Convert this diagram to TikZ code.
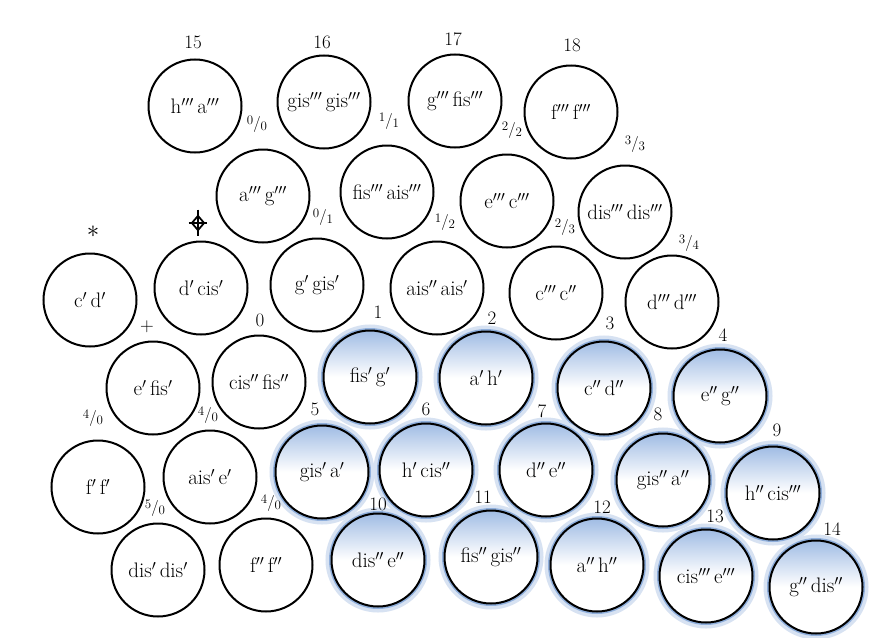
\documentclass[tikz,border=0pt]{standalone}
\usetikzlibrary{shapes.geometric}
\pgfdeclarelayer{background}
\pgfsetlayers{background,main}
\definecolor{bluering}{RGB}{95,140,205}
\definecolor{bluetop}{RGB}{160,188,228}
\newcommand\fra[2]{\raisebox{0.45ex}{\fontsize{13}{13}\selectfont#1}{\fontsize{16}{16}\selectfont/}\raisebox{-0.25ex}{\fontsize{13}{13}\selectfont#2}}
\begin{document}
\begin{tikzpicture}[x=1pt,y=-1pt,
  bub/.style={inner sep=1pt, font=\fontsize{21}{23}\selectfont},
  ring/.style={draw=black, line width=2pt},
  bring/.style={top color=bluetop, bottom color=white, middle color=white,
               preaction={draw=bluering!25, line width=12pt},
               preaction={draw=bluering!70, line width=5pt}},
  num/.style={font=\fontsize{19}{20}\selectfont, inner sep=0pt},
]
\useasboundingbox (0,0) rectangle (875,637);

% row A
\node[bub] (n15) at (195,106) {h$'''$\,a$'''$};
\node[bub] (n16) at (324,102) {gis$'''$\,gis$'''$};
\node[bub] (n17) at (455,101) {g$'''$\,fis$'''$};
\node[bub] (n18) at (571,112) {f$'''$\,f$'''$};
% row B
\node[bub] (ag) at (263,196) {a$'''$\,g$'''$};
\node[bub] (fisais) at (387,192) {fis$'''$\,ais$'''$};
\node[bub] (ec) at (507,201) {e$'''$\,c$'''$};
\node[bub] (disdis3) at (625,212) {dis$'''$\,dis$'''$};
% row C
\node[bub] (cd) at (90,300) {c$'$\,d$'$};
\node[bub] (dcis) at (201,288) {d$'$\,cis$'$};
\node[bub] (ggis) at (317,285) {g$'$\,gis$'$};
\node[bub] (aisais) at (437,288) {ais$''$\,ais$'$};
\node[bub] (cc) at (556,293) {c$'''$\,c$''$};
\node[bub] (dd) at (672,302) {d$'''$\,d$'''$};
% row D
\node[bub] (efis) at (153,388) {e$'$\,fis$'$};
\node[bub] (cisfis) at (259,382) {cis$''$\,fis$''$};
\node[bub] (b1) at (370,377) {fis$'$\,g$'$};
\node[bub] (b2) at (486,378) {a$'$\,h$'$};
\node[bub] (b3) at (604,388) {c$''$\,d$''$};
\node[bub] (b4) at (720,396) {e$''$\,g$''$};
% row E
\node[bub] (ff1) at (98,487) {f$'$\,f$'$};
\node[bub] (aise) at (210,477) {ais$'$\,e$'$};
\node[bub] (b5) at (322,472) {gis$'$\,a$'$};
\node[bub] (b6) at (426,470) {h$'$\,cis$''$};
\node[bub] (b7) at (546,470) {d$''$\,e$''$};
\node[bub] (b8) at (663,480) {gis$''$\,a$''$};
\node[bub] (b9) at (773,493) {h$''$\,cis$'''$};
% row F
\node[bub] (disdis1) at (158,570) {dis$'$\,dis$'$};
\node[bub] (ff2) at (266,565) {f$''$\,f$''$};
\node[bub] (b10) at (378,560) {dis$''$\,e$''$};
\node[bub] (b11) at (491,557) {fis$''$\,gis$''$};
\node[bub] (b12) at (597,565) {a$''$\,h$''$};
\node[bub] (b13) at (706,576) {cis$'''$\,e$'''$};
\node[bub] (b14) at (816,587) {g$''$\,dis$''$};

\begin{pgfonlayer}{background}
  \fill[white] (0,0) rectangle (875,637);
  \foreach \n in {b1,b2,b3,b4,b5,b6,b7,b8,b9,b10,b11,b12,b13,b14}
    \shade[bring] (\n.center) circle[radius=46.5];
  \foreach \n in {n15,n16,n17,n18,ag,fisais,ec,disdis3,cd,dcis,ggis,aisais,cc,dd,
                  efis,cisfis,b1,b2,b3,b4,ff1,aise,b5,b6,b7,b8,b9,
                  disdis1,ff2,b10,b11,b12,b13,b14}
    \draw[ring] (\n.center) circle[radius=46.5];
\end{pgfonlayer}

% number labels
\node[num] (l15) at (193,42) {15};
\node[num] (l16) at (322,42) {16};
\node[num] (l17) at (453,39) {17};
\node[num] (l18) at (572,45) {18};
\node[num] (f00) at (257,124) {\fra00};
\node[num] (f11) at (389,121) {\fra11};
\node[num] (f22) at (512,130) {\fra22};
\node[num] (f33) at (635,144) {\fra33};
\node[num] (f01) at (323,217) {\fra01};
\node[num] (f12) at (445,222) {\fra12};
\node[num] (f23) at (565,227) {\fra23};
\node[num] (f34) at (689,243) {\fra34};
\node[num] (lp) at (147,327) {+};
\node[num] (l0) at (260,320) {0};
\node[num] (l1) at (378,312) {1};
\node[num] (l2) at (492,318) {2};
\node[num] (l3) at (610,323) {3};
\node[num] (l4) at (723,335) {4};
\node[num] (l5) at (315,409) {5};
\node[num] (l6) at (426,409) {6};
\node[num] (l7) at (542,411) {7};
\node[num] (l8) at (658,414) {8};
\node[num] (l9) at (777,430) {9};
\node[num] (f40a) at (93,418) {\fra40};
\node[num] (f40b) at (208,415) {\fra40};
\node[num] (f50) at (155,508) {\fra50};
\node[num] (f40c) at (271,503) {\fra40};
\node[num] (l10) at (378,504) {10};
\node[num] (l11) at (483,497) {11};
\node[num] (l12) at (602,507) {12};
\node[num] (l13) at (715,516) {13};
\node[num] (l14) at (832,529) {14};

% symbols
\node[inner sep=0pt, font=\fontsize{34}{34}\selectfont] (star) at (93,232) {$\ast$};
\node[diamond, draw, line width=1.8pt, minimum width=13pt, minimum height=15pt, inner sep=0pt] (sym) at (198,223) {};
\draw[line width=1.8pt] ([yshift=5pt]sym.north) -- ([yshift=-5pt]sym.south);
\draw[line width=1.8pt] ([xshift=-2pt]sym.west) -- ([xshift=2pt]sym.east);
\end{tikzpicture}
\end{document}
